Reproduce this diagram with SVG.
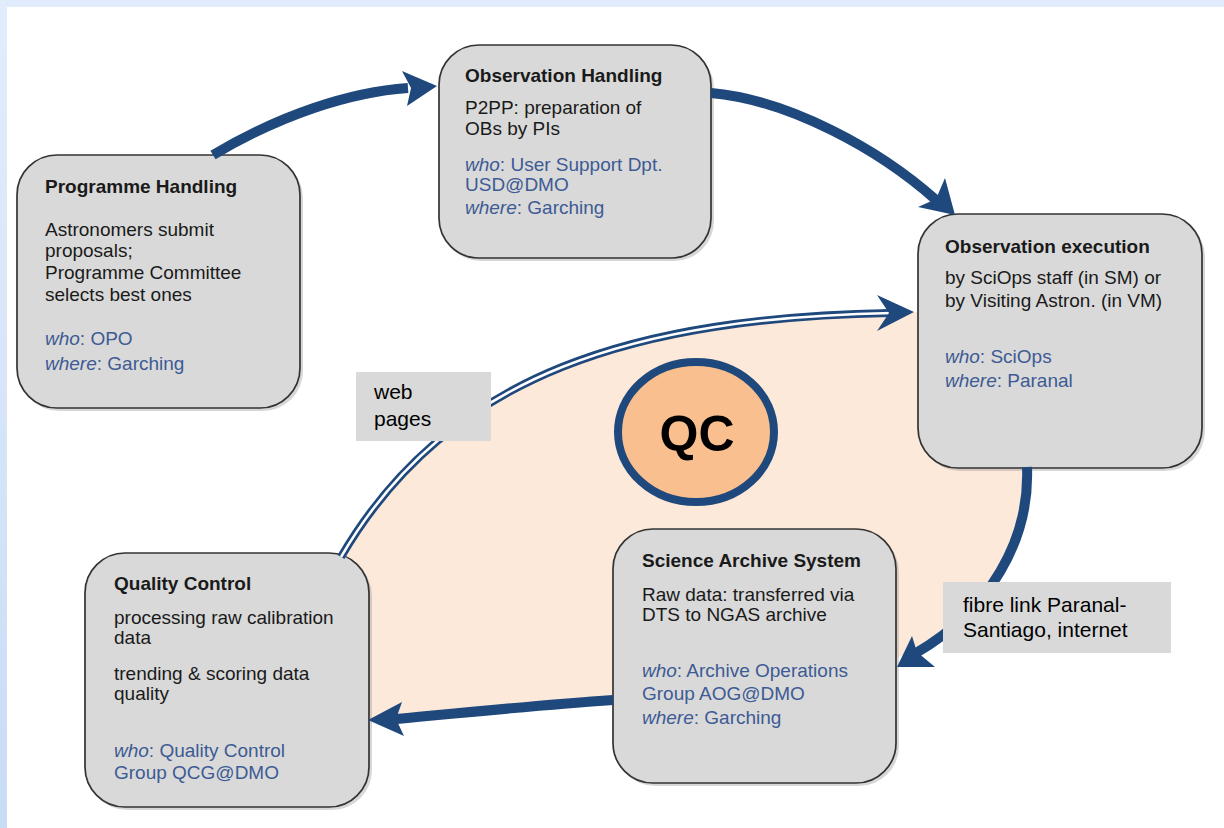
<svg xmlns="http://www.w3.org/2000/svg" width="1224" height="828" viewBox="0 0 1224 828">
<defs>
<linearGradient id="lg" x1="0" y1="0" x2="0" y2="1">
<stop offset="0" stop-color="#e2edfb"/>
<stop offset="1" stop-color="#c9dcf6"/>
</linearGradient>
<style>
.box{fill:#d9d9d9;stroke:#333333;stroke-width:1.7}
.sh{fill:#8c8c8c;opacity:0.35}
.t{font-family:"Liberation Sans",Arial,sans-serif;font-size:19px;fill:#1a1a1a}
.b{font-weight:bold}
.w{fill:#3d5b94}
.i{font-style:italic}
.ar{fill:none;stroke:#1f497d;stroke-width:10}
.hd{fill:#1f497d}
.lab{fill:#d9d9d9}
.lt{font-family:"Liberation Sans",Arial,sans-serif;font-size:21px;fill:#000}
</style>
</defs>
<rect x="0" y="0" width="1224" height="828" fill="#ffffff"/>
<rect x="0" y="0" width="1224" height="7" fill="#e0ecfb"/>
<rect x="0" y="0" width="7" height="828" fill="url(#lg)"/>

<g id="peach">
<path d="M341,557 C450,370 640,318 912,312 L1000,312 L1027,467 C1030,540 990,610 916,653 L700,700 L613,700 C540,705 460,713 368,720 L340,720 L330,600 Z" fill="#fde9d9"/>
</g>

<g id="qc">
<ellipse cx="696" cy="432" rx="78" ry="70" fill="#f9bf8f" stroke="#1f497d" stroke-width="8"/>
<text x="697" y="451" text-anchor="middle" font-family="Liberation Sans,Arial,sans-serif" font-weight="bold" font-size="50" fill="#000">QC</text>
</g>

<g id="programme-handling">
<rect class="sh" x="19" y="158" width="284" height="253" rx="40"/>
<rect class="box" x="17" y="155" width="283" height="253" rx="40"/>
<text class="t b" x="45" y="193">Programme Handling</text>
<text class="t" x="45" y="236">Astronomers submit</text>
<text class="t" x="45" y="257">proposals;</text>
<text class="t" x="45" y="279">Programme Committee</text>
<text class="t" x="45" y="301">selects best ones</text>
<text class="t w" x="45" y="345"><tspan class="i">who</tspan>: OPO</text>
<text class="t w" x="45" y="370"><tspan class="i">where</tspan>: Garching</text>
</g>

<g id="observation-handling">
<rect class="sh" x="441" y="48" width="273" height="213" rx="40"/>
<rect class="box" x="439" y="45" width="272" height="213" rx="40"/>
<text class="t b" x="465" y="82">Observation Handling</text>
<text class="t" x="465" y="114">P2PP: preparation of</text>
<text class="t" x="465" y="135">OBs by PIs</text>
<text class="t w" x="465" y="171"><tspan class="i">who</tspan>: User Support Dpt.</text>
<text class="t w" x="465" y="191">USD@DMO</text>
<text class="t w" x="465" y="214"><tspan class="i">where</tspan>: Garching</text>
</g>

<g id="observation-execution">
<rect class="sh" x="920" y="217" width="285" height="254" rx="40"/>
<rect class="box" x="918" y="214" width="284" height="254" rx="40"/>
<text class="t b" x="945" y="253">Observation execution</text>
<text class="t" x="945" y="284">by SciOps staff (in SM) or</text>
<text class="t" x="945" y="307">by Visiting Astron. (in VM)</text>
<text class="t w" x="945" y="363"><tspan class="i">who</tspan>: SciOps</text>
<text class="t w" x="945" y="387"><tspan class="i">where</tspan>: Paranal</text>
</g>

<g id="science-archive-system">
<rect class="sh" x="615" y="532" width="284" height="254" rx="40"/>
<rect class="box" x="613" y="529" width="283" height="254" rx="40"/>
<text class="t b" x="642" y="567">Science Archive System</text>
<text class="t" x="642" y="601">Raw data: transferred via</text>
<text class="t" x="642" y="621">DTS to NGAS archive</text>
<text class="t w" x="642" y="677"><tspan class="i">who</tspan>: Archive Operations</text>
<text class="t w" x="642" y="700">Group AOG@DMO</text>
<text class="t w" x="642" y="724"><tspan class="i">where</tspan>: Garching</text>
</g>

<g id="quality-control">
<rect class="sh" x="87" y="556" width="285" height="254" rx="40"/>
<rect class="box" x="85" y="553" width="284" height="254" rx="40"/>
<text class="t b" x="114" y="590">Quality Control</text>
<text class="t" x="114" y="624">processing raw calibration</text>
<text class="t" x="114" y="644">data</text>
<text class="t" x="114" y="680">trending &amp; scoring data</text>
<text class="t" x="114" y="700">quality</text>
<text class="t w" x="114" y="757"><tspan class="i">who</tspan>: Quality Control</text>
<text class="t w" x="114" y="779">Group QCG@DMO</text>
</g>

<g id="connectors">
<path class="ar" d="M213,155 C280,115 350,92 408,88"/>
<polygon class="hd" points="437,86 402,71 411,88 407,106"/>
<path class="ar" d="M711,93 C790,100 880,150 936,200"/>
<polygon class="hd" points="955,215 918,207 936,199 945,178"/>
<path class="ar" d="M1027,467 C1030,540 990,610 916,653"/>
<polygon class="hd" points="897,667 912,636 917,652 935,667"/>
<path class="ar" d="M613,700 C540,705 460,713 396,719"/>
<polygon class="hd" points="368,720 402,702 396,719 404,736"/>
<path d="M341,557 C450,370 640,318 890,313" fill="none" stroke="#1f497d" stroke-width="8"/>
<path d="M341,557 C450,370 640,318 892,313" fill="none" stroke="#ffffff" stroke-width="2.5"/>
<polygon class="hd" points="914,312 877,295 889,313 877,331"/>
</g>

<g id="label-web-pages">
<rect class="lab" x="356" y="372" width="135" height="69"/>
<text class="lt" x="374" y="399">web</text>
<text class="lt" x="374" y="426">pages</text>
</g>

<g id="label-fibre">
<rect class="lab" x="943" y="582" width="228" height="71"/>
<text class="lt" x="963" y="612">fibre link Paranal-</text>
<text class="lt" x="963" y="637">Santiago, internet</text>
</g>
</svg>
